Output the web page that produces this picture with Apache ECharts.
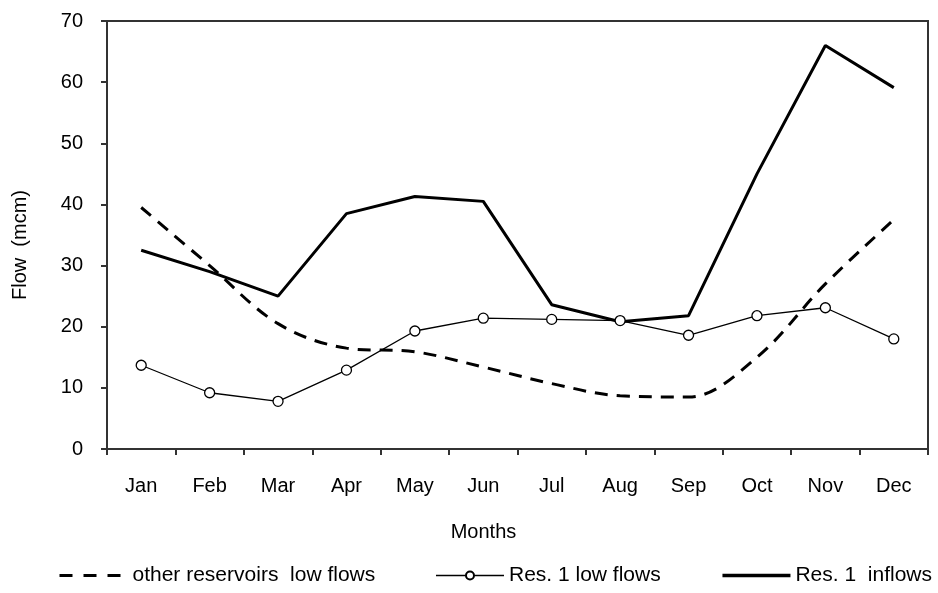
<!DOCTYPE html>
<html>
<head>
<meta charset="utf-8">
<script src="https://cdn.jsdelivr.net/npm/echarts@6/dist/echarts.min.js"></script>
<style>
html,body{margin:0;padding:0;background:#fff;}
#chart{width:938px;height:593px;}
</style>
</head>
<body>
<div id="chart"></div>
<script>
const months = ['Jan','Feb','Mar','Apr','May','Jun','Jul','Aug','Sep','Oct','Nov','Dec'];
const otherLowFlows = [39.5, 30, 20.5, 16.5, 15.9, 13.4, 10.7, 8.7, 8.5, 15, 27, 37.5];
const res1LowFlows = [13.7, 9.2, 7.8, 12.9, 19.3, 21.4, 21.2, 21.0, 18.6, 21.8, 23.1, 18.0];
const res1Inflows = [32.5, 29, 25, 38.5, 41.3, 40.5, 23.6, 20.8, 21.8, 45, 66, 59.1];
const yTicks = [0, 10, 20, 30, 40, 50, 60, 70];

const FONT = '"Liberation Sans", Arial, sans-serif';
const hidden = { color: 'rgba(0,0,0,0)', borderColor: 'rgba(0,0,0,0)', borderWidth: 0 };
const chart = echarts.init(document.getElementById('chart'));
chart.setOption({
  animation: false,
  backgroundColor: '#fff',
  textStyle: { fontFamily: FONT, color: '#000' },
  grid: { left: 107, right: 10, top: 21, bottom: 144, containLabel: false, outerBoundsMode: 'none', show: true, borderColor: '#333', borderWidth: 2, backgroundColor: 'transparent' },
  legend: {
    bottom: 2, left: 53,
    itemWidth: 68, itemHeight: 10, itemGap: 60,
    textStyle: { fontFamily: FONT, fontSize: 21, color: '#000' },
    data: [
      { name: 'other reservoirs  low flows', itemStyle: hidden, lineStyle: { type: [13, 11], width: 3 } },
      { name: 'Res. 1 low flows', lineStyle: { width: 1.5 } },
      { name: 'Res. 1  inflows', itemStyle: hidden, lineStyle: { width: 3.5 } }
    ]
  },
  xAxis: {
    type: 'category', data: months, boundaryGap: true,
    name: 'Months', nameLocation: 'middle', nameGap: 73,
    nameTextStyle: { fontFamily: FONT, fontSize: 20, color: '#000', padding: [0, 68, 0, 0] },
    axisLine: { lineStyle: { color: '#333', width: 2 } },
    axisTick: { show: true, length: 6, lineStyle: { color: '#333', width: 2 } },
    axisLabel: { margin: 27, fontFamily: FONT, fontSize: 20, color: '#000' },
    splitLine: { show: false }
  },
  yAxis: {
    type: 'value', min: yTicks[0], max: yTicks[yTicks.length - 1], interval: 10,
    name: 'Flow  (mcm)', nameLocation: 'middle', nameGap: 77,
    nameTextStyle: { fontFamily: FONT, fontSize: 20, color: '#000', padding: [0, 20, 0, 0] },
    axisLine: { show: true, lineStyle: { color: '#333', width: 2 } },
    axisTick: { show: true, length: 6, lineStyle: { color: '#333', width: 2 } },
    axisLabel: { margin: 24, fontFamily: FONT, fontSize: 20, color: '#000' },
    splitLine: { show: false }
  },
  series: [
    {
      name: 'other reservoirs  low flows', type: 'line', data: otherLowFlows,
      smooth: 0.35, symbol: 'none',
      lineStyle: { color: '#000', width: 3, type: [13, 9] },
      itemStyle: { color: '#000' }
    },
    {
      name: 'Res. 1 low flows', type: 'line', data: res1LowFlows,
      symbol: 'circle', symbolSize: 10,
      lineStyle: { color: '#000', width: 1.3 },
      itemStyle: { color: '#fff', borderColor: '#000', borderWidth: 1.3 }
    },
    {
      name: 'Res. 1  inflows', type: 'line', data: res1Inflows,
      symbol: 'none',
      lineStyle: { color: '#000', width: 3 },
      itemStyle: { color: '#000' }
    }
  ]
});
</script>
</body>
</html>
